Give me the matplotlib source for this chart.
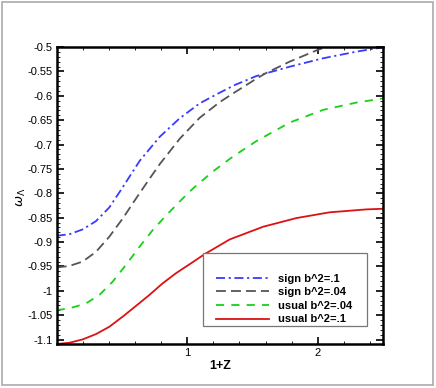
import matplotlib
matplotlib.use("Agg")
import matplotlib.pyplot as plt
from matplotlib.ticker import MultipleLocator, FixedLocator
from matplotlib.patches import Rectangle

plt.rcParams['font.family'] = ['Liberation Sans', 'DejaVu Sans']

# data
x_blue = [0.0, 0.097, 0.199, 0.301, 0.403, 0.495, 0.637, 0.790, 0.943, 1.096, 1.249, 1.364, 1.53, 1.785, 2.04, 2.295, 2.5]
y_blue = [-0.887, -0.884, -0.874, -0.857, -0.829, -0.792, -0.733, -0.684, -0.646, -0.6155, -0.5937, -0.578, -0.5595, -0.5404, -0.5232, -0.5096, -0.5006]

x_gray = [0.0, 0.097, 0.199, 0.301, 0.403, 0.505, 0.607, 0.696, 0.790, 0.943, 1.096, 1.249, 1.364, 1.53, 1.607, 1.785, 1.99, 2.066, 2.2]
y_gray = [-0.952, -0.949, -0.940, -0.920, -0.889, -0.852, -0.811, -0.776, -0.740, -0.688, -0.645, -0.613, -0.593, -0.565, -0.553, -0.530, -0.507, -0.4995, -0.488]

x_green = [0.0, 0.097, 0.224, 0.326, 0.428, 0.530, 0.632, 0.734, 0.836, 0.964, 1.045, 1.198, 1.351, 1.530, 1.785, 2.04, 2.295, 2.5]
y_green = [-1.0395, -1.036, -1.0258, -1.0087, -0.9814, -0.947, -0.9105, -0.876, -0.846, -0.811, -0.790, -0.755, -0.7245, -0.693, -0.655, -0.629, -0.614, -0.6055]

x_red = [0.0, 0.097, 0.199, 0.301, 0.403, 0.505, 0.607, 0.709, 0.811, 0.913, 1.028, 1.135, 1.326, 1.581, 1.836, 2.091, 2.372, 2.5]
y_red = [-1.109, -1.1065, -1.0996, -1.0887, -1.0737, -1.053, -1.031, -1.0087, -0.9848, -0.964, -0.9437, -0.9245, -0.8945, -0.8686, -0.8508, -0.839, -0.833, -0.8317]

labels = ['sign b^2=.1', 'sign b^2=.04', 'usual b^2=.04', 'usual b^2=.1']

W, H = 436, 388
fig = plt.figure(figsize=(W / 100, H / 100), dpi=100)
ax = fig.add_axes([56.7 / W, 1 - 344 / H, (383 - 56.7) / W, (344 - 47) / H])

ax.plot(x_blue, y_blue, color='#3a3aff', lw=1.3, dashes=(5, 2, 1.2, 2), label=labels[0])
ax.plot(x_gray, y_gray, color='#555555', lw=1.3, dashes=(5.5, 2.8), label=labels[1])
ax.plot(x_green, y_green, color='#18d018', lw=1.3, dashes=(4.5, 4), label=labels[2])
ax.plot(x_red, y_red, color='#dd1111', lw=1.3, label=labels[3])

ax.set_xlim(0, 2.5)
ax.set_ylim(-1.109, -0.5)
ax.xaxis.set_major_locator(FixedLocator([1, 2]))
ax.xaxis.set_minor_locator(MultipleLocator(0.2))
ax.yaxis.set_minor_locator(MultipleLocator(0.01))
ax.set_xticklabels(['1', '2'])
yt = [-1.1, -1.05, -1.0, -0.95, -0.9, -0.85, -0.8, -0.75, -0.7, -0.65, -0.6, -0.55, -0.5]
ax.set_yticks(yt)
ax.set_yticklabels(['-1.1', '-1.05', '-1', '-0.95', '-0.9', '-0.85', '-0.8', '-0.75', '-0.7', '-0.65', '-0.6', '-0.55', '-0.5'])
ax.tick_params(which='both', direction='in', top=True, right=True, labelsize=8, pad=3)
ax.tick_params(which='major', length=5, width=1.2)
ax.tick_params(which='minor', length=2.5, width=0.6)
for s in ax.spines.values():
    s.set_linewidth(1.8)

ax.set_xlabel('1+Z', fontsize=9, fontweight='bold', labelpad=1)
ax.set_ylabel(r'$\omega_\Lambda$', fontsize=9.5)
ax.yaxis.set_label_coords((28 - 56.7) / (383 - 56.7), 0.495)

# legend frame drawn separately (asymmetric padding in reference)
ax.add_patch(Rectangle((203 / W, 1 - 326 / H), (367 - 203) / W, (326 - 253) / H,
                       transform=fig.transFigure, fill=True, facecolor='white',
                       edgecolor='#777777', lw=0.9, zorder=3, clip_on=False))
leg = ax.legend(loc='upper left', bbox_to_anchor=(216 / W, 1 - 273.5 / H), bbox_transform=fig.transFigure,
                frameon=False, borderpad=0, borderaxespad=0, handlelength=4.8, handletextpad=0.75,
                labelspacing=0.33, prop={'weight': 'bold', 'size': 8})
leg.set_zorder(5)

fig.patches.append(Rectangle((2 / W, 3 / H), 431 / W, 383 / H, transform=fig.transFigure,
                             fill=False, edgecolor='#aaaaaa', lw=1.2))

fig.savefig('out.png', dpi=100)
